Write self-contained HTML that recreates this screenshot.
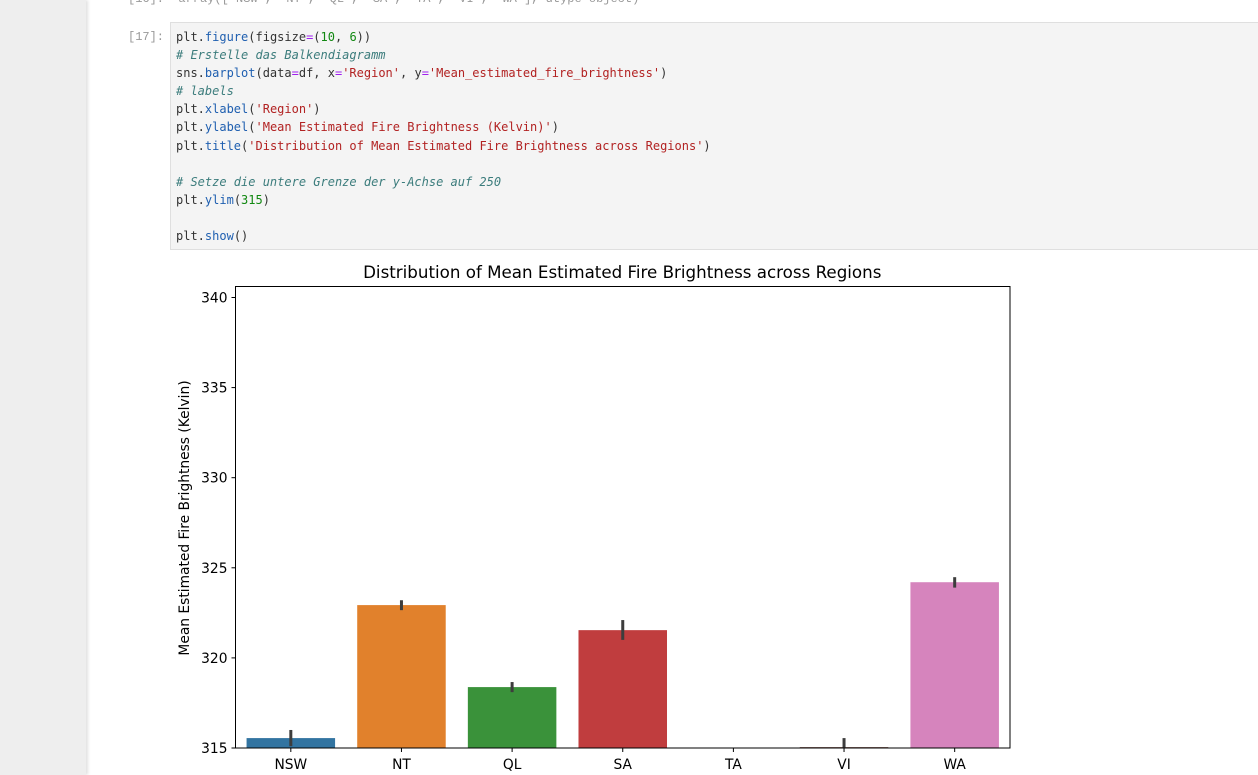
<!DOCTYPE html>
<html><head><meta charset="utf-8"><style>
body{margin:0;width:1258px;height:775px;overflow:hidden;background:#fff;font-family:"DejaVu Sans","Liberation Sans",sans-serif;position:relative}
#side{position:absolute;left:0;top:0;width:86px;height:775px;background:#eeeeee;box-shadow:2px 0 3px rgba(0,0,0,0.12)}
.prompt{position:absolute;font:12px "Liberation Mono",monospace;color:#999}
#cell{position:absolute;left:170px;top:22px;width:1100px;height:228px;background:#f4f4f4;border:1px solid #dfdfdf;box-sizing:border-box}
#code{position:absolute;left:176px;top:28px;font:12px/18.1px "DejaVu Sans Mono","Liberation Mono",monospace;color:#333;white-space:pre;margin:0}
.f{color:#1f5fb0}.s{color:#b22222}.n{color:#118811}.c{color:#3b7c7c;font-style:italic}.o{color:#a020f0}
</style></head><body>
<div id="side"></div>
<div class="prompt" style="left:128px;top:-8px">[16]:&nbsp;&nbsp;array(['NSW', 'NT', 'QL', 'SA', 'TA', 'VI', 'WA'], dtype=object)</div>
<div class="prompt" style="left:128px;top:30px">[17]:</div>
<div id="cell"></div>
<pre id="code">plt.<span class="f">figure</span>(figsize<span class="o">=</span>(<span class="n">10</span>, <span class="n">6</span>))
<span class="c"># Erstelle das Balkendiagramm</span>
sns.<span class="f">barplot</span>(data<span class="o">=</span>df, x<span class="o">=</span><span class="s">'Region'</span>, y<span class="o">=</span><span class="s">'Mean_estimated_fire_brightness'</span>)
<span class="c"># labels</span>
plt.<span class="f">xlabel</span>(<span class="s">'Region'</span>)
plt.<span class="f">ylabel</span>(<span class="s">'Mean Estimated Fire Brightness (Kelvin)'</span>)
plt.<span class="f">title</span>(<span class="s">'Distribution of Mean Estimated Fire Brightness across Regions'</span>)

<span class="c"># Setze die untere Grenze der y-Achse auf 250</span>
plt.<span class="f">ylim</span>(<span class="n">315</span>)

plt.<span class="f">show</span>()</pre>
<svg id="chart" width="1258" height="775" style="position:absolute;left:0;top:0"></svg>
<script>
const categories=['NSW','NT','QL','SA','TA','VI','WA'];
const values=[315.55,322.93,318.38,321.54,312.0,315.05,324.2];
const errLow=[315.1,322.65,318.1,321.0,311.5,314.9,323.9];
const errHigh=[316.0,323.2,318.66,322.1,312.5,315.55,324.48];
const colors=['#3274a1','#e1812c','#3a923a','#c03d3e','#9372b2','#845b53','#d684bd'];
const yTicks=[315,320,325,330,335,340];
const yMin=315,yMax=340.61;
const L=235.5,R=1010,T=286.5,B=748;
const NS='http://www.w3.org/2000/svg';
const svg=document.getElementById('chart');
function y(v){return B-(v-yMin)/(yMax-yMin)*(B-T);}
const band=(R-L)/categories.length;
function xc(i){return L+band*(i+0.5);}
function mk(t,a,txt){const e=document.createElementNS(NS,t);for(const k in a)e.setAttribute(k,a[k]);if(txt!==undefined)e.textContent=txt;svg.appendChild(e);return e;}
const clip=mk('clipPath',{id:'cp'});
const cr=document.createElementNS(NS,'rect');cr.setAttribute('x',L);cr.setAttribute('y',T);cr.setAttribute('width',R-L);cr.setAttribute('height',B-T);clip.appendChild(cr);
const g=mk('g',{'clip-path':'url(#cp)'});
categories.forEach((c,i)=>{
  const bw=band*0.8;
  const top=y(values[i]);
  const r=document.createElementNS(NS,'rect');
  r.setAttribute('x',xc(i)-bw/2);r.setAttribute('y',Math.min(top,B));r.setAttribute('width',bw);r.setAttribute('height',Math.max(0,B-top));r.setAttribute('fill',colors[i]);
  
  
  g.appendChild(r);
  const l=document.createElementNS(NS,'line');
  l.setAttribute('x1',xc(i));l.setAttribute('x2',xc(i));l.setAttribute('y1',y(errLow[i]));l.setAttribute('y2',y(errHigh[i]));l.setAttribute('stroke','#3d3d3d');l.setAttribute('stroke-width','3');
  
  
  g.appendChild(l);
  mk('line',{x1:xc(i),x2:xc(i),y1:B,y2:B+4,stroke:'#000','stroke-width':1});
  const t=mk('text',{x:xc(i),y:B+21,'text-anchor':'middle','font-size':13.8,fill:'#000'},c);
  
  
});
yTicks.forEach(v=>{
  mk('line',{x1:L-4,x2:L,y1:y(v),y2:y(v),stroke:'#000','stroke-width':1});
  const t=mk('text',{x:L-8,y:y(v)+5,'text-anchor':'end','font-size':13.8,fill:'#000'},v);
  
  
});
const fr=mk('rect',{x:L,y:T,width:R-L,height:B-T,fill:'none',stroke:'#000','stroke-width':1});


const tt=mk('text',{x:(L+R)/2-0.5,y:278,'text-anchor':'middle','font-size':16.7,fill:'#000'},'Distribution of Mean Estimated Fire Brightness across Regions');


const yl=mk('text',{x:0,y:0,'text-anchor':'middle','font-size':13.8,fill:'#000',transform:'translate(189,518) rotate(-90)'},'Mean Estimated Fire Brightness (Kelvin)');


</script>
</body></html>
